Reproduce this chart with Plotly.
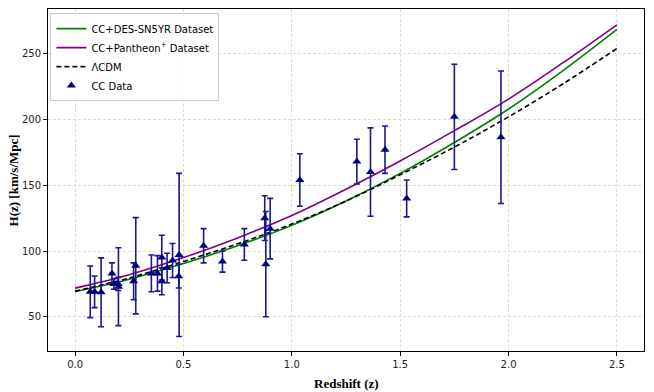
import plotly.graph_objects as go

# cosmic chronometer data
z_cc = [0.07, 0.09, 0.12, 0.17, 0.179, 0.199, 0.20, 0.27, 0.28, 0.352, 0.3802,
        0.4, 0.4004, 0.4247, 0.4497, 0.4783, 0.48, 0.593, 0.68, 0.781, 0.875,
        0.88, 0.9, 1.037, 1.3, 1.363, 1.43, 1.53, 1.75, 1.965]
h_cc = [69.0, 69.0, 68.6, 83.0, 75.0, 75.0, 72.9, 77.0, 88.8, 83.0, 83.0,
        95.0, 77.0, 87.1, 92.8, 80.9, 97.0, 104.0, 92.0, 105.0, 125.0,
        90.0, 117.0, 154.0, 168.0, 160.0, 177.0, 140.0, 202.0, 186.5]
err_cc = [19.6, 12.0, 26.2, 8.0, 4.0, 5.0, 29.6, 14.0, 36.6, 14.0, 13.5,
          17.0, 10.2, 11.2, 12.9, 9.0, 62.0, 13.0, 8.0, 12.0, 17.0,
          40.0, 23.0, 20.0, 17.0, 33.6, 18.0, 14.0, 40.0, 50.4]

# model curves
z_fit = [0.0, 0.25, 0.5, 0.75, 1.0, 1.25, 1.5, 1.75, 2.0, 2.25, 2.5]
h_des = [69.0, 78.5, 90.5, 104.0, 119.5, 138.0, 159.0, 182.5, 208.0, 237.0, 268.5]
h_pan = [71.8, 82.0, 95.0, 110.0, 127.0, 147.0, 168.5, 191.5, 215.5, 243.0, 272.0]
h_lcdm = [69.5, 79.5, 92.0, 105.5, 120.5, 138.0, 158.0, 179.0, 202.0, 227.0, 254.0]

fig = go.Figure()
fig.add_trace(go.Scatter(x=z_fit, y=h_des, mode="lines", name="CC+DES-SN5YR Dataset",
                         line=dict(color="green", width=1.6, shape="spline")))
fig.add_trace(go.Scatter(x=z_fit, y=h_pan, mode="lines", name="CC+Pantheon<sup>+</sup> Dataset",
                         line=dict(color="purple", width=1.6, shape="spline")))
fig.add_trace(go.Scatter(x=z_fit, y=h_lcdm, mode="lines", name="ΛCDM",
                         line=dict(color="black", width=1.6, dash="5px,3px", shape="spline")))
fig.add_trace(go.Scatter(
    x=z_cc, y=h_cc, mode="markers", name="CC Data",
    marker=dict(symbol="triangle-up", size=8, color="#000080"),
    error_y=dict(type="data", array=err_cc, color="#1a1a8c", thickness=1.6, width=3),
))

axis_common = dict(
    showline=True, linecolor="black", linewidth=1, mirror=True,
    ticks="outside", ticklen=4, tickcolor="black",
    showgrid=True, gridcolor="#dcdcdc", griddash="3px,2px", gridwidth=0.8,
    zeroline=False, automargin=False,
    tickfont=dict(family="DejaVu Sans", size=10, color="#222"),
)

title_font = dict(family="Liberation Serif", size=13, color="black")

fig.update_layout(
    width=654, height=392,
    margin=dict(l=48, r=10, t=9, b=41),
    plot_bgcolor="white", paper_bgcolor="white",
    xaxis=dict(range=[-0.125, 2.625], tickvals=[0.0, 0.5, 1.0, 1.5, 2.0, 2.5],
               tickformat=".1f", **axis_common),
    yaxis=dict(range=[24, 284], tickvals=[50, 100, 150, 200, 250], **axis_common),
    legend=dict(x=0.004, y=0.988, xanchor="left", yanchor="top",
                bgcolor="rgba(255,255,255,0.85)", bordercolor="#cccccc", borderwidth=1,
                font=dict(family="DejaVu Sans", size=10, color="black"),
                tracegroupgap=0, itemwidth=30),
    showlegend=True,
    annotations=[
        dict(text="<b>Redshift (z)</b>", xref="paper", yref="paper", x=0.5, y=-0.096,
             xanchor="center", yanchor="middle", showarrow=False, font=title_font),
        dict(text="<b>H(z) [km/s/Mpc]</b>", xref="paper", yref="paper", x=-0.058, y=0.5,
             xanchor="center", yanchor="middle", textangle=-90, showarrow=False,
             font=title_font),
    ],
)

fig.write_html("out.html", config={"displayModeBar": False},
               post_script="document.body.style.margin='0';")
